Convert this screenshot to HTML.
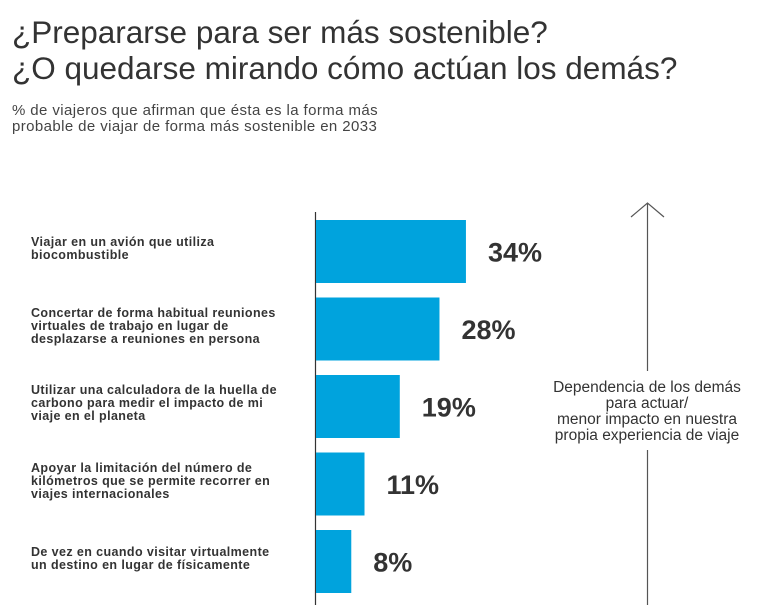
<!DOCTYPE html>
<html><head><meta charset="utf-8"><style>
body{margin:0;width:780px;height:605px;background:#fff;overflow:hidden;font-family:"Liberation Sans",sans-serif;position:relative}
.t{position:absolute;left:12px;color:#333;font-size:31.5px;line-height:36px;top:14px;letter-spacing:0px}
.s{position:absolute;left:12px;top:103px;color:#444;font-size:15px;line-height:16px;letter-spacing:0.4px}
.lab{position:absolute;left:31px;font-size:12.5px;font-weight:bold;color:#333;line-height:13px;letter-spacing:0.4px}
.side{position:absolute;left:525px;width:244px;top:380px;text-align:center;font-size:15.5px;line-height:16px;color:#333}
</style></head><body>
<div class="t">¿Prepararse para ser más sostenible?<br>¿O quedarse mirando cómo actúan los demás?</div>
<div class="s">% de viajeros que afirman que ésta es la forma más<br>probable de viajar de forma más sostenible en 2033</div>
<div id="labels"></div>
<svg id="chart" width="780" height="605" style="position:absolute;left:0;top:0">
<line x1="315.5" y1="212" x2="315.5" y2="605" stroke="#333" stroke-width="1.2"/>
<line x1="647.5" y1="204" x2="647.5" y2="371" stroke="#555" stroke-width="1.2"/>
<polyline points="631,217 647.5,203 664,217" fill="none" stroke="#555" stroke-width="1.2"/>
<line x1="647.5" y1="450" x2="647.5" y2="605" stroke="#555" stroke-width="1.2"/>
</svg>
<div class="side">Dependencia de los demás<br>para actuar/<br>menor impacto en nuestra<br>propia experiencia de viaje</div>
<script>
const categories=["Viajar en un avión que utiliza<br>biocombustible","Concertar de forma habitual reuniones<br>virtuales de trabajo en lugar de<br>desplazarse a reuniones en persona","Utilizar una calculadora de la huella de<br>carbono para medir el impacto de mi<br>viaje en el planeta","Apoyar la limitación del número de<br>kilómetros que se permite recorrer en<br>viajes internacionales","De vez en cuando visitar virtualmente<br>un destino en lugar de físicamente"];
const values=[34,28,19,11,8];
const x0=316, pxPer=4.41, top0=220, step=77.5, bh=63;
const xs=v=>x0+v*pxPer;
const svg=document.getElementById('chart');
const labs=document.getElementById('labels');
values.forEach((v,i)=>{
  const y=top0+i*step;
  const r=document.createElementNS('http://www.w3.org/2000/svg','rect');
  r.setAttribute('x',x0);r.setAttribute('y',y);r.setAttribute('width',xs(v)-x0);r.setAttribute('height',bh);r.setAttribute('fill','#00a3dd');
  
  
  svg.appendChild(r);
  const t=document.createElementNS('http://www.w3.org/2000/svg','text');
  t.setAttribute('x',xs(v)+22);t.setAttribute('y',y+bh/2+10);t.setAttribute('font-size','27');t.setAttribute('font-weight','bold');t.setAttribute('fill','#333');t.setAttribute('font-family','Liberation Sans, sans-serif');
  t.textContent=v+'%';
  
  
  svg.appendChild(t);
  const d=document.createElement('div');
  d.className='lab';d.innerHTML=categories[i];
  const n=categories[i].split('<br>').length;
  d.style.top=(y+bh/2-n*13/2-3)+'px';
  
  
  labs.appendChild(d);
});
</script>
</body></html>
